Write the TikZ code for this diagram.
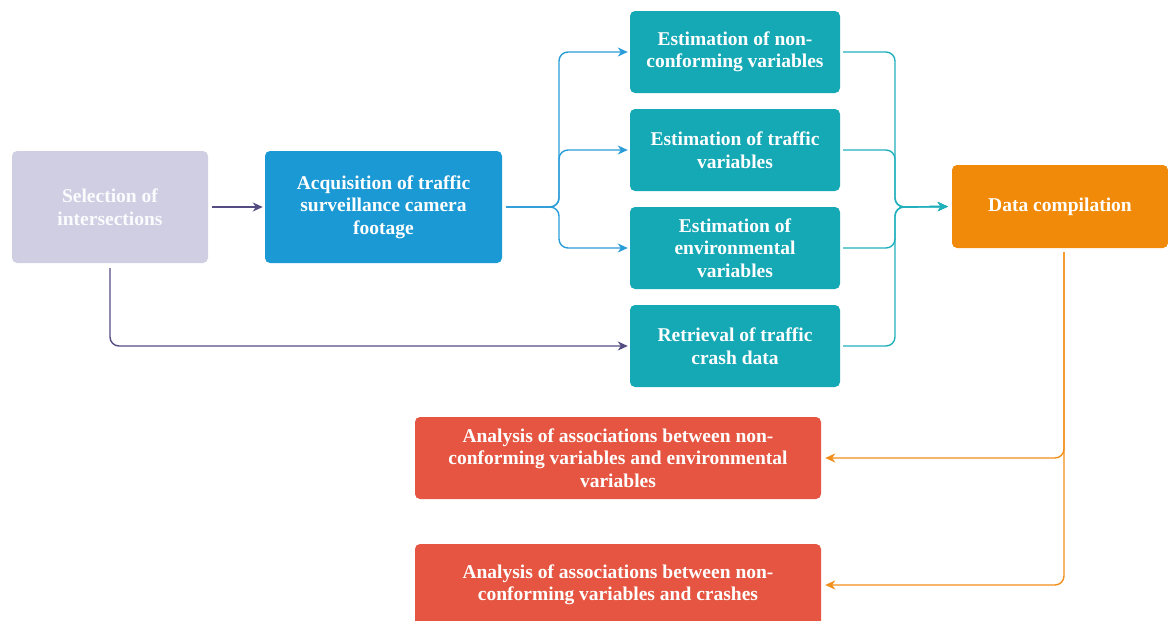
\documentclass[tikz,border=0pt]{standalone}
\usepackage{fontspec}
\newfontfamily\boxfont{Liberation Serif}
\usetikzlibrary{arrows.meta,positioning}

% Colours
\definecolor{selfill}{HTML}{D0CEE3}
\definecolor{acqfill}{HTML}{1B99D4}
\definecolor{estfill}{HTML}{15A8B5}
\definecolor{dcfill}{HTML}{F08A08}
\definecolor{anfill}{HTML}{E55541}
\definecolor{purpleline}{HTML}{534D82}
\definecolor{blueline}{HTML}{2A9CD8}
\definecolor{tealline}{HTML}{22AFBC}
\definecolor{orangeline}{HTML}{F28E1A}

\tikzset{
    box/.style={rectangle, rounded corners=5pt, inner sep=0pt, align=center,
        text=white, font=\boxfont\bfseries\fontsize{19.5}{22.5}\selectfont},
    link/.style={line width=1.4pt, rounded corners=9pt,
        -{Stealth[length=10pt,width=9pt,inset=3pt]}},
}

\begin{document}
\begin{tikzpicture}[x=1pt,y=-1pt]
  % Frame
    \clip (0,0) rectangle (1168,621);

  % Boxes
    \node[box, fill=selfill, minimum width=196pt, minimum height=112pt, text=white!92!selfill]
        (sel) at (110,207) {Selection of\\intersections};
    \node[box, fill=acqfill, minimum width=237pt, minimum height=112pt]
        (acq) at (383.5,207) {Acquisition of traffic\\surveillance camera\\footage};

    \node[box, fill=estfill, minimum width=210pt, minimum height=82pt]
        (noncon) at (735,52) {Estimation of non-\\conforming variables};
    \node[box, fill=estfill, minimum width=210pt, minimum height=82pt]
        (traffic) at (735,150) {Estimation of traffic\\variables};
    \node[box, fill=estfill, minimum width=210pt, minimum height=82pt]
        (envir) at (735,248) {Estimation of\\environmental\\variables};
    \node[box, fill=estfill, minimum width=210pt, minimum height=82pt]
        (crash) at (735,346) {Retrieval of traffic\\crash data};

    \node[box, fill=dcfill, minimum width=216pt, minimum height=83pt]
        (compile) at (1060,206.5) {Data compilation};

    \node[box, fill=anfill, minimum width=406pt, minimum height=82pt]
        (anenv) at (618,458) {Analysis of associations between non-\\conforming variables and environmental\\variables};
    \node[box, fill=anfill, minimum width=406pt, minimum height=82pt]
        (ancrash) at (618,585) {Analysis of associations between non-\\conforming variables and crashes};

  % Junctions
    \coordinate (split) at (559,207);
    \coordinate (merge) at (895,207);

  % Connectors
    \draw[link, purpleline, shorten <=4pt, shorten >=2pt] (sel) -- (acq);
    \draw[link, purpleline, shorten <=5pt, shorten >=2pt] (sel.south) |- (crash.west);

    \foreach \target in {noncon,traffic,envir}
      \draw[link, blueline, shorten <=4pt, shorten >=2pt] (acq.east) -- (split) |- (\target.west);

    \foreach \source in {noncon,traffic,envir,crash}
      \draw[link, tealline, shorten <=3pt, shorten >=4pt] (\source.east) -| (merge) -- (compile.west);

    \draw[link, orangeline, shorten <=4pt, shorten >=4pt] ([xshift=4pt]compile.south) |- (anenv.east);
    \draw[link, orangeline, shorten <=4pt, shorten >=4pt] ([xshift=4pt]compile.south) |- (ancrash.east);
\end{tikzpicture}
\end{document}
